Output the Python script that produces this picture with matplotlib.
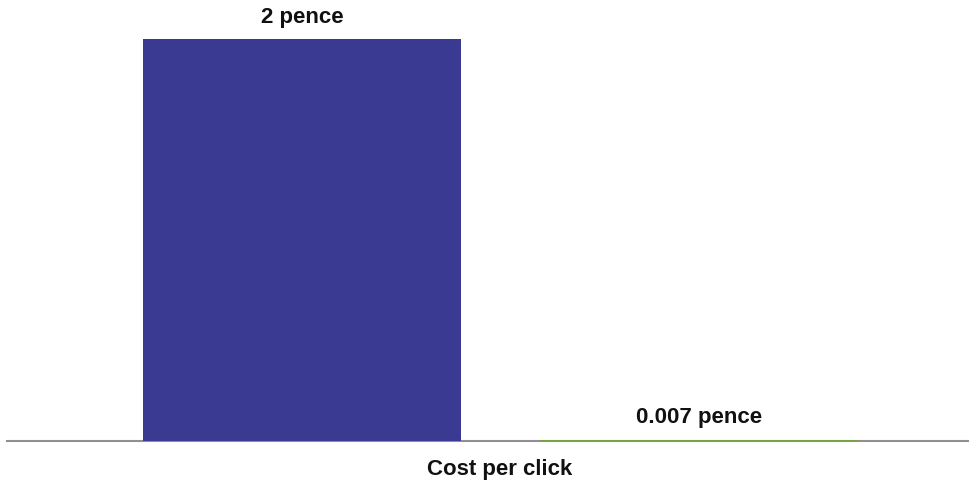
import matplotlib
matplotlib.use("Agg")
import matplotlib.pyplot as plt

categories = ["Cost per click"]
series_names = ["Series A", "Series B"]
values = [2.0, 0.007]
value_labels = ["2 pence", "0.007 pence"]
colors = ["#3A3A93", "#77A043"]

plt.rcParams['font.family'] = ['Liberation Sans', 'DejaVu Sans']

W, H = 969, 488
fig = plt.figure(figsize=(W / 100, H / 100), dpi=100)
left_px, right_px = 7, 993
base_px, top_px = 441, 0
ax = fig.add_axes([left_px / W, (H - base_px) / H, (right_px - left_px) / W, (base_px - top_px) / H])
ax.set_xlim(-0.5, 0.5)
ax.set_ylim(0, 2 * 441 / 402)

bar_w = 318 / 986
offsets = [-198 / 986, 199 / 986]
for v, off, c, lab in zip(values, offsets, colors, value_labels):
    ax.bar(off, v, width=bar_w, color=c, zorder=2)
    ax.annotate(lab, (off, v), xytext=(0, 8), textcoords="offset points",
                ha="center", va="bottom", fontsize=16, fontweight="bold", color="#111111")

for s in ["top", "left", "right"]:
    ax.spines[s].set_visible(False)
ax.spines["bottom"].set_color("#909090")
ax.spines["bottom"].set_linewidth(1.5)
ax.spines["bottom"].set_zorder(1)
ax.set_yticks([])
ax.set_xticks([0], categories)
ax.tick_params(axis="x", length=0, pad=13, labelsize=16)
for t in ax.get_xticklabels():
    t.set_fontweight("bold")
    t.set_color("#111111")
ax.set_facecolor("none")

fig.savefig("out.png", dpi=100)
